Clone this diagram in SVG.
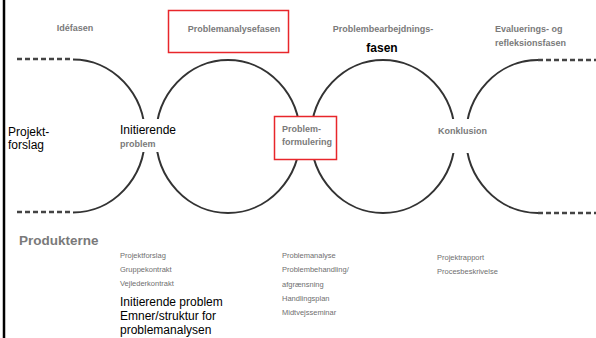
<svg xmlns="http://www.w3.org/2000/svg" width="596" height="338" viewBox="0 0 596 338">
<style>
.arc{fill:none;stroke:#333;stroke-width:2}
.dash{fill:none;stroke:#444;stroke-width:2.5;stroke-dasharray:5 3}
.blur{font-family:"Liberation Sans",Arial,sans-serif;font-weight:bold;fill:#7a7a7a;font-size:9px}
.small{font-family:"Liberation Sans",Arial,sans-serif;fill:#6f6f6f;font-size:7.5px}
.txt{font-family:"Liberation Sans",Arial,sans-serif;fill:#000;font-size:12px}
.redbox{fill:#fff;stroke:#e8262b;stroke-width:1.5}
.bg{fill:#fff}
</style>
<rect x="0" y="0" width="596" height="338" fill="#fff"/>
<line x1="4" y1="0" x2="4" y2="338" stroke="#000" stroke-width="2.5"/>

<g id="connectors">
  <path class="dash" d="M17,59 H73"/>
  <path class="dash" d="M17,212 H73"/>
  <path class="arc" d="M73,59.5 A72,76.5 0 0 1 73,212.5"/>
  <ellipse class="arc" cx="228" cy="136.5" rx="72" ry="76.5"/>
  <ellipse class="arc" cx="383" cy="136.5" rx="72" ry="76.5"/>
  <path class="arc" d="M538,60 A72,76.5 0 0 0 538,213"/>
  <path class="dash" d="M538,60 H596"/>
  <path class="dash" d="M538,213 H596"/>
</g>

<g id="ide-fasen">
  <text class="blur" x="75" y="31" text-anchor="middle">Idéfasen</text>
</g>
<g id="problemanalysefasen">
  <rect class="redbox" x="168.5" y="10.5" width="120" height="42"/>
  <text class="blur" x="234" y="32" text-anchor="middle">Problemanalysefasen</text>
</g>
<g id="problembearbejdningsfasen">
  <text class="blur" x="383" y="32" text-anchor="middle">Problembearbejdnings-</text>
  <text x="382" y="52" text-anchor="middle" font-family="Liberation Sans, Arial, sans-serif" font-weight="bold" font-size="12" fill="#000">fasen</text>
</g>
<g id="evalueringsfasen">
  <text class="blur" x="495" y="32">Evaluerings- og</text>
  <text class="blur" x="495" y="46">refleksionsfasen</text>
</g>

<g id="projektforslag">
  <text class="txt" x="8" y="136">Projekt-</text>
  <text class="txt" x="8" y="149">forslag</text>
</g>
<g id="initierende-problem">
  <rect class="bg" x="114" y="119" width="64" height="33"/>
  <text class="txt" x="120" y="134">Initierende</text>
  <text class="blur" x="120" y="147">problem</text>
</g>
<g id="problemformulering">
  <rect class="redbox" x="274.5" y="116.5" width="62" height="43"/>
  <text class="blur" x="282" y="132">Problem-</text>
  <text class="blur" x="282" y="145">formulering</text>
</g>
<g id="konklusion">
  <rect class="bg" x="434" y="119" width="58" height="34"/>
  <text class="blur" x="438" y="134">Konklusion</text>
</g>

<g id="produkterne">
  <text x="19" y="245" font-family="Liberation Sans, Arial, sans-serif" font-weight="bold" font-size="13.5" fill="#7a7a7a">Produkterne</text>
</g>
<g id="produkter-ide">
  <text class="small" x="120" y="258">Projektforslag</text>
  <text class="small" x="120" y="272">Gruppekontrakt</text>
  <text class="small" x="120" y="286">Vejlederkontrakt</text>
  <text class="txt" x="120" y="306">Initierende problem</text>
  <text class="txt" x="120" y="320">Emner/struktur for</text>
  <text class="txt" x="120" y="334">problemanalysen</text>
</g>
<g id="produkter-analyse">
  <text class="small" x="282" y="258">Problemanalyse</text>
  <text class="small" x="282" y="272">Problembehandling/</text>
  <text class="small" x="282" y="287">afgrænsning</text>
  <text class="small" x="282" y="301">Handlingsplan</text>
  <text class="small" x="282" y="315">Midtvejsseminar</text>
</g>
<g id="produkter-evaluering">
  <text class="small" x="437" y="260">Projektrapport</text>
  <text class="small" x="437" y="274">Procesbeskrivelse</text>
</g>
</svg>
